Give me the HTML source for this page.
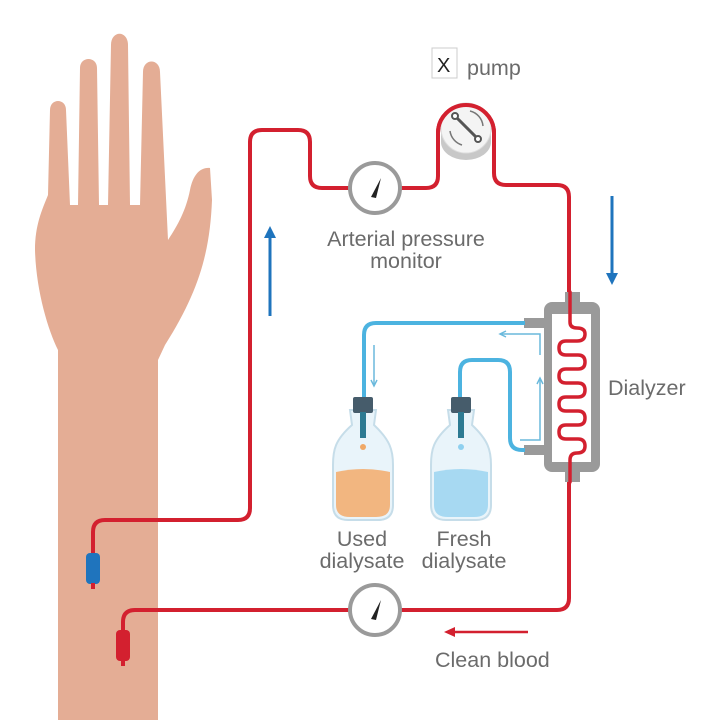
<!DOCTYPE html>
<html><head><meta charset="utf-8"><style>
html,body{margin:0;padding:0;background:#fff}
svg{display:block}
text{font-family:"Liberation Sans","DejaVu Sans",sans-serif;fill:#6b6b6b;font-size:21.5px}
</style></head><body>
<svg width="720" height="720" viewBox="0 0 720 720" xmlns="http://www.w3.org/2000/svg">
<!-- hand -->
<g fill="#e4ad95">
<path d="M58 720 L58 350 C48 330 36 290 35 250 C35 225 42 210 48 195 L50 110 C50 98 66 98 66 110 L70 205 L78 205 L80 68 C80 56 97 56 97 68 L99 205 L108 205 L111 45 C111 30 128 30 128 45 L130 205 L140 205 L143 72 C143 58 160 58 160 72 L168 240 C178 225 186 210 190 190 C193 175 200 167 210 168 L212 200 C210 250 200 290 165 345 L158 360 L158 720 Z"/>
</g>
<!-- red blood tubing -->
<g fill="none" stroke="#d3202f" stroke-width="4" stroke-linecap="round" stroke-linejoin="round">
<path d="M93 553 L93 532 Q93 520 105 520 L238 520 Q250 520 250 508 L250 142 Q250 130 262 130 L298 130 Q310 130 310 142 L310 176 Q310 188 322 188 L350 188"/>
<path d="M401 188 L426 188 Q438 188 438 176 L438 133 A28 28 0 0 1 494 133 L494 173 Q494 185 506 185 L557 185 Q569 185 569 197 L569 300"/>
<path d="M569 470 L569 598 Q569 610 557 610 L400 610"/>
<path d="M350 610 L135 610 Q123 610 123 622 L123 632"/>
</g>
<!-- dialyzer -->
<g fill="#9a9a9a">
<rect x="565" y="292" width="15" height="12"/>
<rect x="565" y="470" width="15" height="12"/>
<rect x="544" y="302" width="56" height="170" rx="8"/>
<rect x="524" y="318" width="22" height="10"/>
<rect x="524" y="445" width="22" height="10"/>
</g>
<rect x="552" y="314" width="39" height="148" fill="#fff"/>
<g fill="none" stroke="#d3202f" stroke-width="3.5" stroke-linecap="round" stroke-linejoin="round">
<path d="M570 292 L570 322 Q570 328 577 328 Q585 328 585 334 Q585 341 577 341 L566 341 Q559 341 559 348 Q559 355 566 355 L578 355 Q585 355 585 362 Q585 369 578 369 L566 369 Q559 369 559 376 Q559 383 566 383 L578 383 Q585 383 585 390 Q585 397 578 397 L566 397 Q559 397 559 404 Q559 411 566 411 L578 411 Q585 411 585 418 Q585 425 578 425 L566 425 Q559 425 559 432 Q559 439 566 439 L578 439 Q585 439 585 446 Q585 453 577 453 Q570 453 570 460 L570 482"/>
</g>
<!-- catheters -->
<rect x="86" y="553" width="14" height="31" rx="4" fill="#1f74bd"/>
<rect x="91" y="583" width="4" height="6" fill="#d3202f"/>
<rect x="116" y="630" width="14" height="31" rx="4" fill="#d3202f"/>
<rect x="121" y="660" width="4" height="6" fill="#d3202f"/>
<!-- gauges -->
<g>
<circle cx="375" cy="188" r="25" fill="#fff" stroke="#9a9a9a" stroke-width="4"/>
<path d="M371 197 L381 178 L376 198 Z" fill="#222"/>
<circle cx="375" cy="610" r="25" fill="#fff" stroke="#9a9a9a" stroke-width="4"/>
<path d="M371 619 L381 600 L376 620 Z" fill="#222"/>
</g>
<!-- pump -->
<ellipse cx="466" cy="142" rx="25" ry="18" fill="#c8c8c8"/>
<rect x="441" y="128" width="50" height="14" fill="#c8c8c8"/>
<circle cx="466" cy="128" r="25" fill="#f4f4f4" stroke="#ddd" stroke-width="1"/>
<line x1="455" y1="116" x2="478" y2="139" stroke="#555" stroke-width="3"/>
<circle cx="455" cy="116" r="3" fill="#fff" stroke="#555" stroke-width="2"/>
<circle cx="478" cy="139" r="3" fill="#fff" stroke="#555" stroke-width="2"/>
<path d="M470 111 A17 17 0 0 1 483 126" fill="none" stroke="#777" stroke-width="1.5"/>
<path d="M450 131 A17 17 0 0 0 462 145" fill="none" stroke="#777" stroke-width="1.5"/>
<path d="M438 133 A28 28 0 0 1 494 133" fill="none" stroke="#d3202f" stroke-width="4"/>
<!-- dialysate blue tubing -->
<g fill="none" stroke="#4cb3e0" stroke-width="4" stroke-linejoin="round">
<path d="M525 323 L376 323 Q364 323 364 335 L364 398"/>
<path d="M525 450 L522 450 Q510 450 510 438 L510 372 Q510 360 498 360 L472 360 Q460 360 460 372 L460 398"/>
</g>
<!-- small arrows -->
<g stroke="#6ab9dc" stroke-width="1.5" fill="none">
<path d="M374 345 L374 385"/><path d="M371 380 L374 386 L377 380"/>
<path d="M538 334 L540 334 L540 355"/><path d="M538 334 L500 334"/><path d="M506 331 L500 334 L506 337"/>
<path d="M540 378 L540 440 L520 440"/><path d="M537 384 L540 378 L543 384"/>
</g>
<!-- bottles -->
<g>
<path d="M350 410 L352 425 C335 440 333 450 333 465 L333 505 Q333 520 348 520 L378 520 Q393 520 393 505 L393 465 C393 450 390 440 374 425 L376 410 Z" fill="#e9f4fa" stroke="#c6dde9" stroke-width="2"/>
<path d="M336 472 Q363 466 390 472 L390 505 Q390 517 376 517 L350 517 Q336 517 336 505 Z" fill="#f2b680"/>
<rect x="353" y="397" width="20" height="16" rx="2" fill="#465c6b"/>
<rect x="360" y="412" width="6" height="26" fill="#2d7a92"/>
<circle cx="363" cy="447" r="3" fill="#f0a866"/>
<path d="M448 410 L450 425 C433 440 431 450 431 465 L431 505 Q431 520 446 520 L476 520 Q491 520 491 505 L491 465 C491 450 488 440 472 425 L474 410 Z" fill="#e9f4fa" stroke="#c6dde9" stroke-width="2"/>
<path d="M434 472 Q461 466 488 472 L488 505 Q488 517 474 517 L448 517 Q434 517 434 505 Z" fill="#a7d9f2"/>
<rect x="451" y="397" width="20" height="16" rx="2" fill="#465c6b"/>
<rect x="458" y="412" width="6" height="26" fill="#2d7a92"/>
<circle cx="461" cy="447" r="3" fill="#8fd0ef"/>
</g>
<!-- big arrows -->
<g stroke="#1f74bd" stroke-width="3" fill="#1f74bd">
<line x1="270" y1="316" x2="270" y2="236"/><path d="M264 238 L270 226 L276 238 Z" stroke="none"/>
<line x1="612" y1="196" x2="612" y2="275"/><path d="M606 273 L612 285 L618 273 Z" stroke="none"/>
</g>
<g stroke="#d3202f" stroke-width="2.5" fill="#d3202f">
<line x1="528" y1="632" x2="452" y2="632"/><path d="M455 627 L444 632 L455 637 Z" stroke="none"/>
</g>
<!-- labels -->
<rect x="432" y="48" width="25" height="30" fill="#fff" stroke="#ccc" stroke-width="1"/>
<text x="437" y="72" style="fill:#222;font-size:20px">X</text>
<text x="467" y="75">pump</text>
<text x="406" y="246" text-anchor="middle">Arterial pressure</text>
<text x="406" y="268" text-anchor="middle">monitor</text>
<text x="608" y="395">Dialyzer</text>
<text x="362" y="546" text-anchor="middle">Used</text>
<text x="362" y="568" text-anchor="middle">dialysate</text>
<text x="464" y="546" text-anchor="middle">Fresh</text>
<text x="464" y="568" text-anchor="middle">dialysate</text>
<text x="435" y="667">Clean blood</text>
</svg>
</body></html>
